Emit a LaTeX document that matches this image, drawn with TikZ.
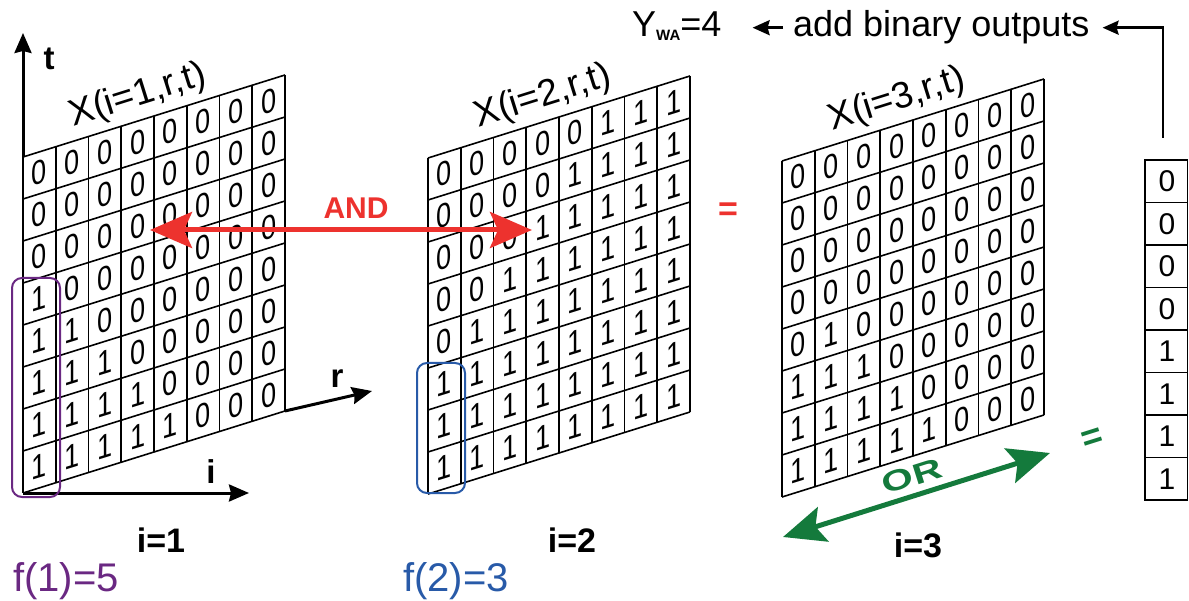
\documentclass[tikz,border=0pt]{standalone}
\usepackage{fontspec}
\setmainfont{Liberation Sans}
\usetikzlibrary{arrows.meta}
\definecolor{andred}{RGB}{237,50,46}
\definecolor{orgreen}{RGB}{20,122,60}
\definecolor{fpurple}{RGB}{106,40,130}
\definecolor{fblue}{RGB}{40,90,168}
\newcommand\fs[1]{\fontsize{#1}{#1}\selectfont}
\tikzset{
  gridline/.style={line width=1.6pt},
  digit/.style={font=\fs{34}, inner sep=0pt, transform shape},
  gridtitle/.style={font=\fs{37}, inner sep=0pt, rotate=17.4},
  axisline/.style={line width=3pt, -{Stealth[length=20pt,width=17pt,inset=2pt]}},
  axislabel/.style={font=\bfseries\fs{33}, inner sep=0pt},
  ilabel/.style={font=\bfseries\fs{34}, inner sep=0pt},
  flabel/.style={font=\fs{40}, inner sep=0pt},
  colbox/.style={line width=2pt, rounded corners=10pt},
  bigarrow/.style={line width=5pt, {Stealth[length=42pt,width=36pt,inset=8pt]}-{Stealth[length=42pt,width=36pt,inset=8pt]}},
  toptext/.style={font=\fs{36}, inner sep=0pt},
  outline/.style={line width=2.5pt, -{Stealth[length=16pt,width=14pt,inset=2pt]}},
  vecdigit/.style={font=\fs{30}, inner sep=0pt},
}
\newcommand\drawgrid[5]{%
  \begin{scope}[shift={(#2,#3)}, yslant=0.313]
    \foreach \cc in {0,...,8} \draw[gridline] ({\cc*32.75},0) -- ({\cc*32.75},336);
    \foreach \rr in {0,...,8} \draw[gridline] (0,{\rr*42}) -- (262,{\rr*42});
    \foreach \zz [count=\cc] in {#5} {
      \foreach \rr in {1,...,8} {
        \pgfmathtruncatemacro\vv{\rr>\zz ? 1 : 0}
        \node[digit] (#1-\cc-\rr) at ({(\cc-0.5)*32.75},{(\rr-0.5)*42}) {\scalebox{0.8}[1]{\vv}};
      }
    }
    \node[gridtitle] (#1-title) at (115,-25) {X(i=#4,r,t)};
    \coordinate (#1-tl) at (0,0);
    \coordinate (#1-bl) at (0,336);
    \coordinate (#1-br) at (262,336);
  \end{scope}}
\begin{document}
\begin{tikzpicture}[x=1pt,y=-1pt]
\useasboundingbox (0,0) rectangle (1189,601);
\drawgrid{g1}{23}{157}{1}{3,4,5,6,7,8,8,8}
\drawgrid{g2}{428}{158}{2}{5,4,3,2,1,0,0,0}
\drawgrid{g3}{782}{161}{3}{5,4,5,6,7,8,8,8}
% axes
\coordinate (tend) at (23,33);
\coordinate (iend) at (249,493);
\coordinate (rend) at (372,391);
\draw[axisline] (g1-tl) -- (tend);
\draw[axisline] (g1-bl) -- (iend);
\draw[axisline] (g1-br) -- (rend);
\node[axislabel] (tlab) at (49,59) {t};
\node[axislabel] (ilab) at (211,472) {i};
\node[axislabel] (rlab) at (337,379) {r};
% bottom labels
\node[ilabel] (i1) at (161,540) {i=1};
\node[ilabel] (i2) at (572,540) {i=2};
\node[ilabel] (i3) at (918,545) {i=3};
\node[flabel, text=fpurple] (f1) at (66,581) {f(1)=5};
\node[flabel, text=fblue] (f2) at (456,581) {f(2)=3};
% column boxes
\draw[colbox, fpurple] (12,278) rectangle (60,497);
\draw[colbox, fblue] (417,363) rectangle (465,493);
% AND
\coordinate (andL) at (150,230);
\coordinate (andR) at (532,230);
\draw[bigarrow, andred] (andL) -- (andR);
\node[font=\bfseries\fs{30}, text=andred, inner sep=0pt] (andlab) at (356,208) {AND};
\node[font=\bfseries\fs{34}, text=andred, inner sep=0pt] (eqred) at (728,212) {=};
% OR
\coordinate (orL) at (783,537);
\coordinate (orR) at (1050,453);
\draw[bigarrow, orgreen] (orL) -- (orR);
\node[font=\bfseries\fs{29}, text=orgreen, inner sep=0pt, rotate=17.5] (orlab) at (912,476) {\scalebox{1.4}[1]{OR}};
\node[font=\bfseries\fs{36}, text=orgreen, inner sep=0pt, rotate=17.5] (eqgreen) at (1093,439) {=};
% output vector
\draw[gridline] (1145,160) rectangle (1187.5,500);
\foreach \k in {1,...,7} \draw[gridline] (1145,{160+\k*42.5}) -- (1187.5,{160+\k*42.5});
\foreach \vv [count=\k] in {0,0,0,0,1,1,1,1} \node[vecdigit] (v\k) at (1167,{160+(\k-0.5)*42.5}) {\vv};
% top
\node[toptext, anchor=base west] (ywa) at (632,37) {Y\raisebox{-4pt}{\bfseries\fs{15}WA}=4};
\node[toptext, anchor=base west] (add) at (793,37) {add binary outputs};
\draw[line width=2.5pt, -{Stealth[length=17pt,width=15pt,inset=2pt]}, shorten <=10pt, shorten >=31pt] (add.west) -- (add.west -| ywa.east);
\coordinate (vout) at (1163,138);
\draw[outline, shorten >=13pt] (vout) |- (add.east);
\end{tikzpicture}
\end{document}
